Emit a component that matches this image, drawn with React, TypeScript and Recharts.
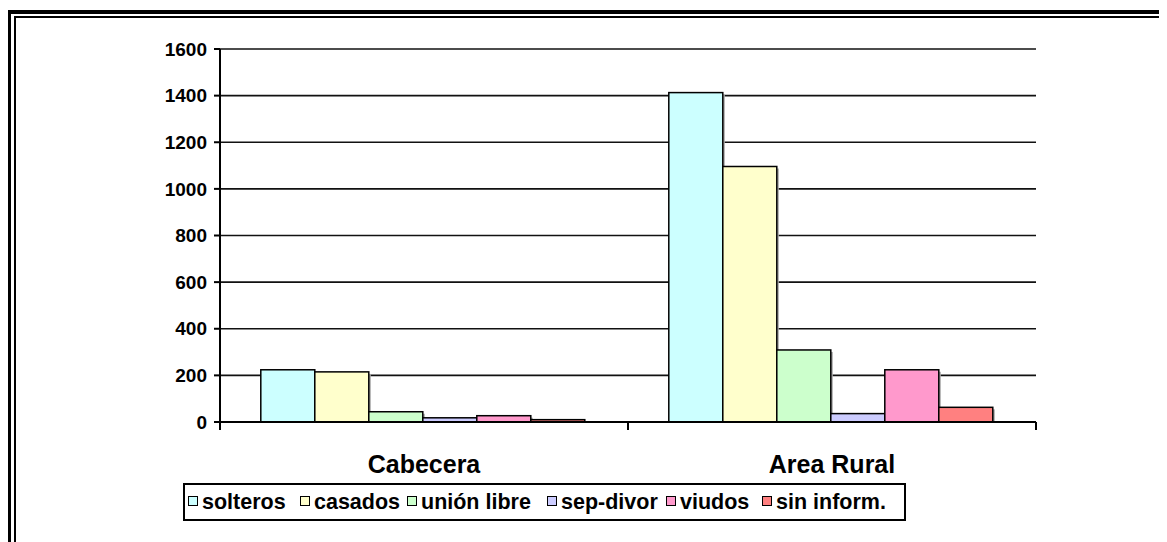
import React from 'react';
import { BarChart, Bar, XAxis, YAxis, CartesianGrid } from 'recharts';

const categories = ['Cabecera', 'Area Rural'];
const seriesNames = ['solteros', 'casados', 'unión libre', 'sep-divor', 'viudos', 'sin inform.'];
const seriesKeys = ['solteros', 'casados', 'union', 'sep', 'viudos', 'sin'];
const COLORS = ['#CCFFFF', '#FFFFCC', '#CCFFCC', '#CCCCFF', '#FF99CC', '#FF8080'];

const solteros = [224, 1413];
const casados = [215, 1096];
const union = [44, 309];
const sep = [18, 36];
const viudos = [27, 224];
const sin = [10, 63];

const yTicks = [0, 200, 400, 600, 800, 1000, 1200, 1400, 1600];

const values = [solteros, casados, union, sep, viudos, sin];
const data = categories.map((name, i) => {
  const row: any = { name };
  seriesKeys.forEach((k, s) => {
    row[k] = values[s][i];
  });
  return row;
});

const FONT = '"Liberation Sans", Arial, sans-serif';
// left edge of each legend marker inside the legend box
const legendX = [3, 115, 222, 362, 481, 577];

const ShadowBar = (props: any) => {
  const { x, y, width, height, fill } = props;
  if (!height || height <= 0) return null;
  return (
    <g>
      <rect x={x + 2} y={y + 2} width={width} height={height - 2} fill="#aaa" />
      <rect x={x} y={y} width={width} height={height} fill={fill} stroke="#000" strokeWidth={1.5} />
    </g>
  );
};

const CatTick = (props: any) => {
  const { x, y, payload, index } = props;
  const half = 408 / 2;
  return (
    <g>
      <line x1={x - half} y1={y - 8} x2={x - half} y2={y} stroke="#000" strokeWidth={2} />
      {index === categories.length - 1 && (
        <line x1={x + half} y1={y - 8} x2={x + half} y2={y} stroke="#000" strokeWidth={2} />
      )}
      <text x={x} y={y + 43} textAnchor="middle" fontSize={25} fontWeight="bold" fontFamily={FONT} fill="#000">
        {payload.value}
      </text>
    </g>
  );
};

export default function App() {
  return (
    <div style={{ position: 'relative', width: 1159, height: 534, background: '#fff', overflow: 'hidden' }}>
      <div style={{ position: 'absolute', left: 0, top: 2, width: 1200, height: 600, borderLeft: '3px solid #000', borderTop: '4px solid #000' }} />
      <div style={{ position: 'absolute', left: 6, top: 8, width: 1200, height: 600, borderLeft: '2px solid #000', borderTop: '2px solid #000' }} />
      <div style={{ position: 'absolute', left: 0, top: 0 }}>
        <BarChart
          width={1159}
          height={534}
          data={data}
          margin={{ top: 41, right: 131, bottom: 60, left: 0 }}
          barCategoryGap="10%"
          barGap={0}
        >
          <CartesianGrid vertical={false} stroke="#111" strokeWidth={1.6} />
          <XAxis
            dataKey="name"
            height={60}
            axisLine={{ stroke: '#000', strokeWidth: 2 }}
            tickLine={false}
            tick={<CatTick />}
            interval={0}
          />
          <YAxis
            width={212}
            domain={[0, 1600]}
            ticks={yTicks}
            interval={0}
            axisLine={{ stroke: '#000', strokeWidth: 2 }}
            tickLine={{ stroke: '#000', strokeWidth: 2 }}
            tickSize={6}
            tickMargin={7}
            tick={{ fontSize: 19, fontWeight: 'bold', fontFamily: FONT, fill: '#000' }}
          />
          {seriesKeys.map((k, i) => (
            <Bar key={k} dataKey={k} name={seriesNames[i]} fill={COLORS[i]} shape={<ShadowBar />} isAnimationActive={false} />
          ))}
        </BarChart>
      </div>
      <div
        style={{
          position: 'absolute',
          left: 175,
          top: 475,
          width: 719,
          height: 34,
          border: '2px solid #000',
          fontFamily: FONT,
          fontWeight: 'bold',
          fontSize: 21.5,
          color: '#000',
          whiteSpace: 'nowrap',
        }}
      >
        {seriesNames.map((n, i) => (
          <span
            key={n}
            style={{ position: 'absolute', left: legendX[i], top: 3, display: 'flex', alignItems: 'center', lineHeight: '28px' }}
          >
            <span
              style={{
                display: 'block',
                boxSizing: 'border-box',
                width: 10,
                height: 10,
                border: '1.5px solid #000',
                background: COLORS[i],
                marginRight: 4,
                marginTop: -3,
                flex: 'none',
              }}
            />
            {n}
          </span>
        ))}
      </div>
    </div>
  );
}
